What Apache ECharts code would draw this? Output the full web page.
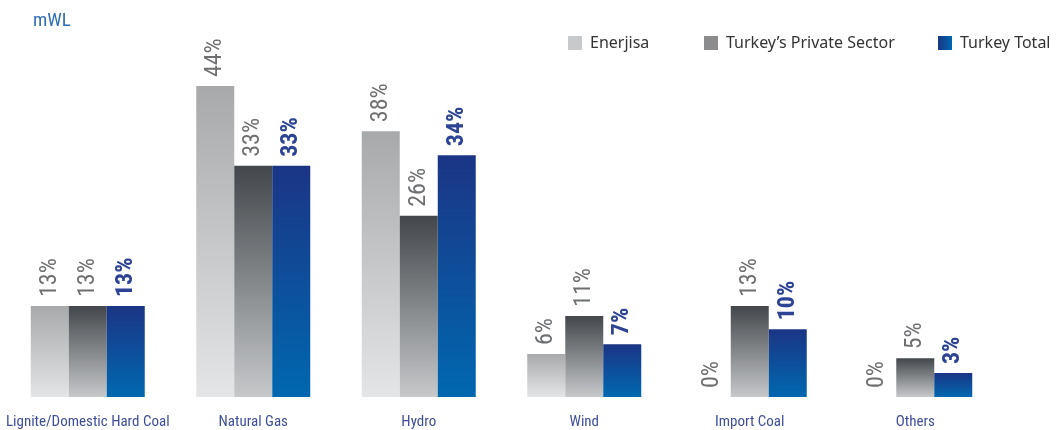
<!DOCTYPE html>
<html>
<head>
<meta charset="utf-8">
<script src="https://cdn.jsdelivr.net/npm/echarts@6/dist/echarts.min.js"></script>
<style>
html,body{margin:0;padding:0;background:#fff;}
#chart{width:1058px;height:430px;}
</style>
</head>
<body>
<div id="chart"></div>
<script>
const categories = ['Lignite/Domestic Hard Coal', 'Natural Gas', 'Hydro', 'Wind', 'Import Coal', 'Others'];
const seriesNames = ['Enerjisa', 'Turkey\u2019s Private Sector', 'Turkey Total'];
const enerjisaValues = [12.9, 44.1, 37.7, 6.1, 0, 0];
const privateValues = [12.9, 32.8, 25.7, 11.5, 12.9, 5.5];
const totalValues = [12.9, 32.8, 34.3, 7.5, 9.6, 3.4];
const enerjisaLabels = ['13%', '44%', '38%', '6%', '0%', '0%'];
const privateLabels = ['13%', '33%', '26%', '11%', '13%', '5%'];
const totalLabels = ['13%', '33%', '34%', '7%', '10%', '3%'];

const condensed = 'Roboto, "Open Sans", sans-serif';

function vGrad(c0, c1) {
  return new echarts.graphic.LinearGradient(0, 0, 0, 1, [
    { offset: 0, color: c0 }, { offset: 1, color: c1 }
  ]);
}

function makeLabel(labels, color, bold) {
  return {
    show: true,
    position: 'top',
    distance: 9,
    rotate: 90,
    align: 'left',
    verticalAlign: 'middle',
    fontFamily: condensed,
    fontSize: 24,
    fontStyle: 'normal',
    fontWeight: bold ? 'bold condensed' : 'condensed',
    color: color,
    formatter: p => labels[p.dataIndex]
  };
}

const chart = echarts.init(document.getElementById('chart'), null, { renderer: 'canvas' });

function legendAt(left, name, color) {
  return {
    left: left,
    top: 35,
    padding: 0,
    icon: 'rect',
    itemWidth: 14,
    itemHeight: 14,
    selectedMode: false,
    data: [{ name: name, itemStyle: { color: color } }],
    textStyle: { fontFamily: '"Noto Sans", sans-serif', fontSize: 16, color: '#333', padding: [0, 0, 0, 3] }
  };
}

chart.setOption({
  animation: false,
  title: {
    text: 'mWL',
    left: 28,
    top: 7,
    textStyle: { fontFamily: condensed, fontSize: 19, fontStyle: 'normal', fontWeight: 'condensed', color: '#2f6db4' }
  },
  legend: [
    legendAt(568, seriesNames[0], '#c8c9cb'),
    legendAt(704, seriesNames[1], '#8b8c8e'),
    legendAt(938, seriesNames[2], new echarts.graphic.LinearGradient(0, 0, 1, 0, [
      { offset: 0, color: '#1b3585' }, { offset: 1, color: '#0067b0' }
    ]))
  ],
  grid: { left: 5, right: 60, top: 44.5, bottom: 33, containLabel: false, outerBoundsMode: 'none' },
  xAxis: {
    type: 'category',
    data: categories,
    axisLine: { show: false },
    axisTick: { show: false },
    axisLabel: {
      margin: 18,
      fontFamily: condensed,
      fontSize: 15,
      fontStyle: 'normal',
      fontWeight: 'condensed',
      color: '#3e4f99',
      interval: 0
    }
  },
  yAxis: {
    type: 'value',
    min: 0,
    max: 50,
    show: false,
    splitLine: { show: false }
  },
  series: [
    {
      name: seriesNames[0], type: 'bar', data: enerjisaValues, barWidth: 38, barGap: '0%',
      itemStyle: { color: vGrad('#a7a9ab', '#e4e5e6') },
      label: makeLabel(enerjisaLabels, '#6e6f71', false)
    },
    {
      name: seriesNames[1], type: 'bar', data: privateValues, barWidth: 38, barGap: '0%',
      itemStyle: { color: vGrad('#43474b', '#c6c8ca') },
      label: makeLabel(privateLabels, '#6e6f71', false)
    },
    {
      name: seriesNames[2], type: 'bar', data: totalValues, barWidth: 38, barGap: '0%',
      itemStyle: { color: vGrad('#1b3585', '#0068b0') },
      label: makeLabel(totalLabels, '#2d4494', true)
    }
  ]
});
</script>
</body>
</html>
